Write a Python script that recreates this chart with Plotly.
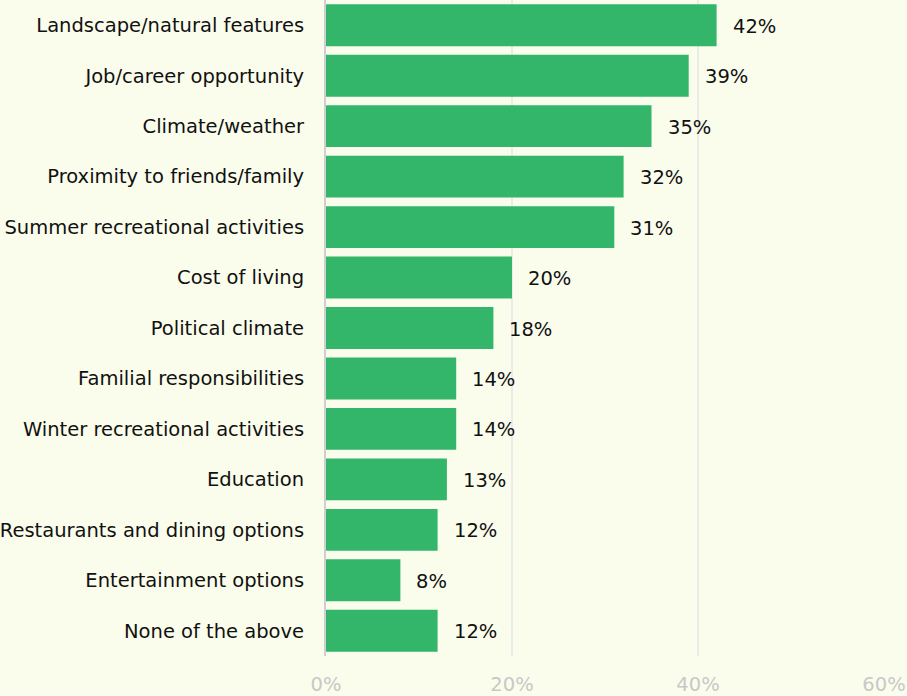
import plotly.graph_objects as go

categories = [
    "Landscape/natural features",
    "Job/career opportunity",
    "Climate/weather",
    "Proximity to friends/family",
    "Summer recreational activities",
    "Cost of living",
    "Political climate",
    "Familial responsibilities",
    "Winter recreational activities",
    "Education",
    "Restaurants and dining options",
    "Entertainment options",
    "None of the above",
]
values = [42, 39, 35, 32, 31, 20, 18, 14, 14, 13, 12, 8, 12]
tick_vals = [0, 20, 40, 60]
tick_text = ["0%", "20%", "40%", "60%"]

FONT = "DejaVu Sans"
FS = 19.5

fig = go.Figure()
fig.add_trace(go.Bar(
    x=values,
    y=categories,
    orientation="h",
    marker=dict(color="#33b56a", line=dict(width=0)),
    width=0.83,
    hoverinfo="skip",
))

for c, v in zip(categories, values):
    fig.add_annotation(
        x=v, y=c, text=f"{v}%", showarrow=False,
        xanchor="left", xshift=14, yshift=-1,
        font=dict(family=FONT, size=FS, color="#111111"),
    )

fig.update_layout(
    width=907, height=696,
    margin=dict(l=326, r=23, t=0, b=38),
    paper_bgcolor="#fbfdec",
    plot_bgcolor="#fbfdec",
    showlegend=False,
    bargap=0.17,
    font=dict(family=FONT, size=FS, color="#111111"),
)
fig.update_xaxes(
    range=[0, 60],
    tickvals=tick_vals,
    ticktext=tick_text,
    showgrid=True,
    gridcolor="#ebebe8",
    gridwidth=1.5,
    zeroline=False,
    showline=False,
    tickfont=dict(family=FONT, size=FS, color="#c8c8c8"),
    ticklabelstandoff=14,
    fixedrange=True,
)
fig.update_yaxes(
    autorange="reversed",
    showgrid=False,
    showline=True,
    linecolor="#cfcfcf",
    linewidth=2,
    ticks="",
    ticklabelstandoff=16,
    tickfont=dict(family=FONT, size=FS, color="#111111"),
    fixedrange=True,
)

fig.write_html("out.html", config={"displayModeBar": False})
